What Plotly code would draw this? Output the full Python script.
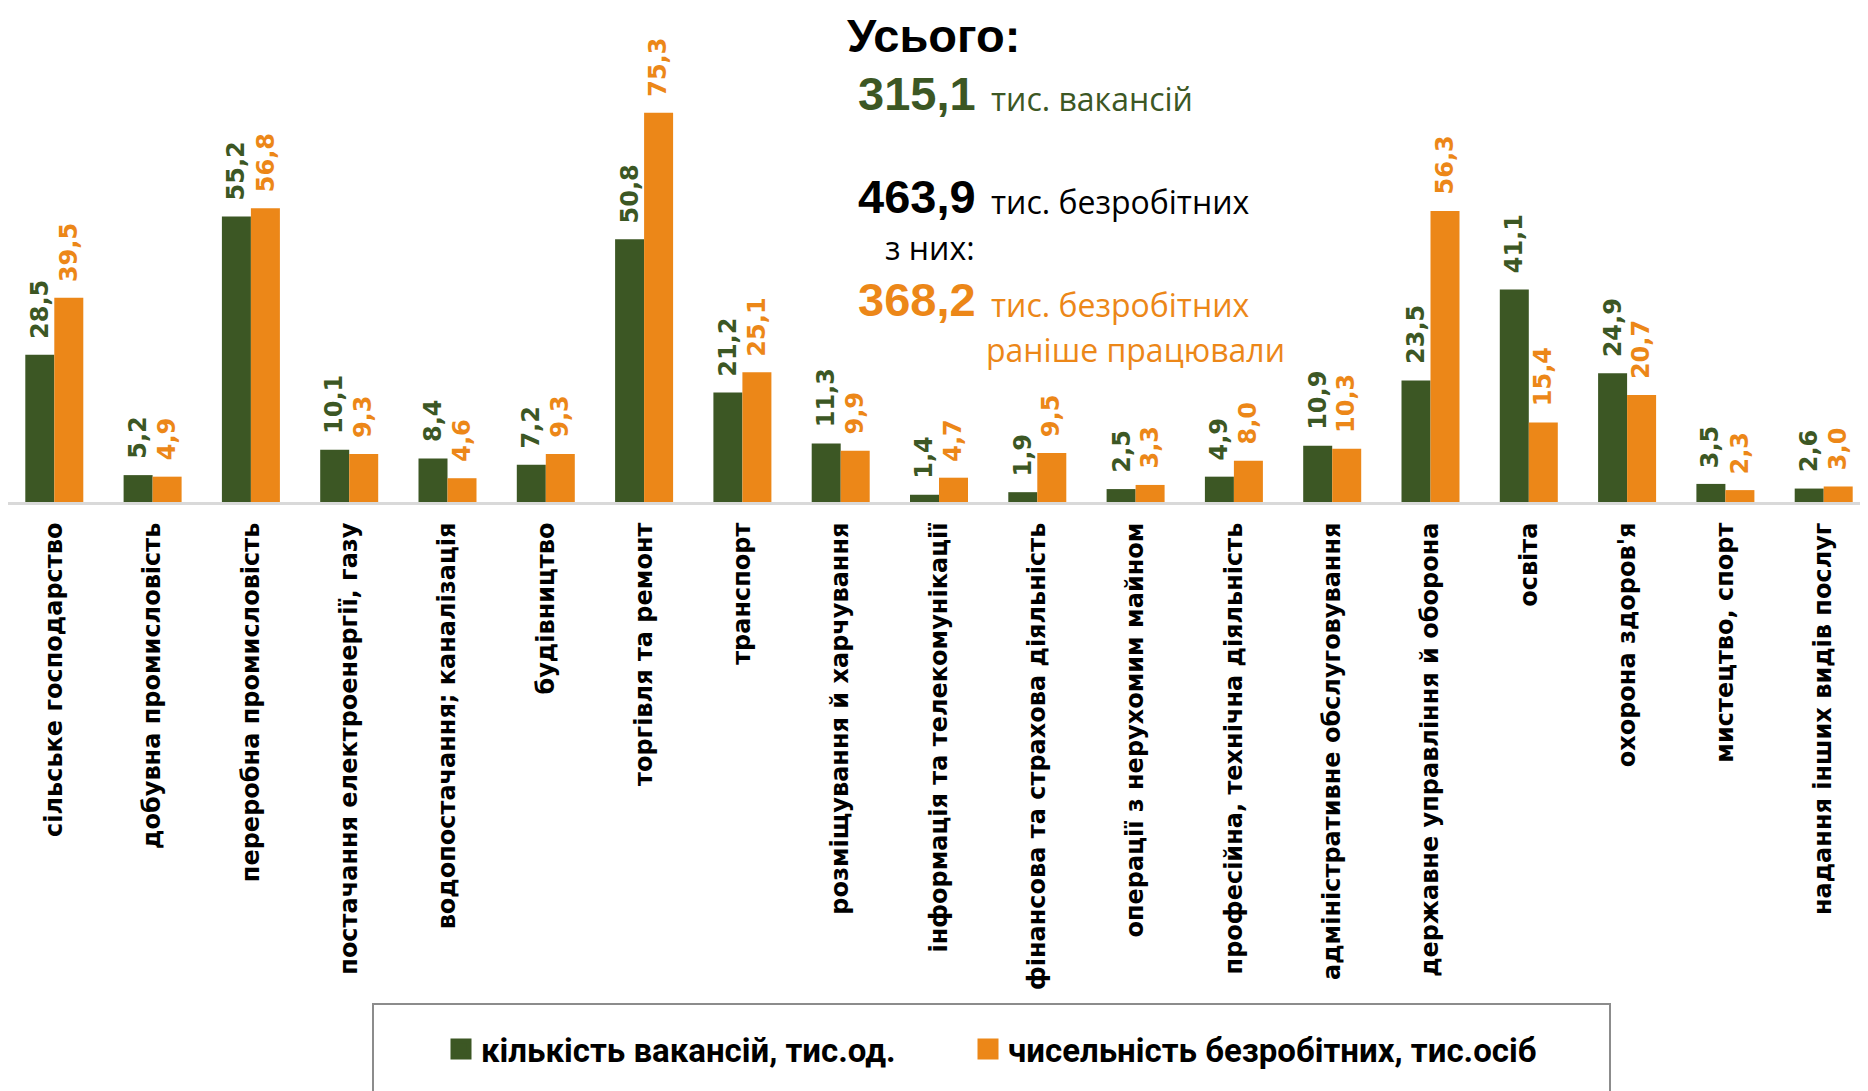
import plotly.graph_objects as go

categories = [
    "сільське господарство",
    "добувна промисловість",
    "переробна промисловість",
    "постачання електроенергії, газу",
    "водопостачання; каналізація",
    "будівництво",
    "торгівля та ремонт",
    "транспорт",
    "розміщування й харчування",
    "інформація та телекомунікації",
    "фінансова та страхова діяльність",
    "операції з нерухомим майном",
    "професійна, технічна діяльність",
    "адміністративне обслуговування",
    "державне управління й оборона",
    "освіта",
    "охорона здоров'я",
    "мистецтво, спорт",
    "надання інших видів послуг",
]
vacancies = [28.5, 5.2, 55.2, 10.1, 8.4, 7.2, 50.8, 21.2, 11.3, 1.4, 1.9, 2.5, 4.9, 10.9, 23.5, 41.1, 24.9, 3.5, 2.6]
unemployed = [39.5, 4.9, 56.8, 9.3, 4.6, 9.3, 75.3, 25.1, 9.9, 4.7, 9.5, 3.3, 8.0, 10.3, 56.3, 15.4, 20.7, 2.3, 3.0]
series_names = ["кількість вакансій, тис.од.", "чисельність безробітних, тис.осіб"]

total_title = "Усього:"
total_vacancies = "315,1"
total_unemployed = "463,9"
total_prev_worked = "368,2"

GREEN = "#3C5724"
ORANGE = "#EC8718"

# page offset caused by the default body margin of the html page
OFF = 8
W, H = 1868 - OFF, 1091 - OFF
BASE = 502            # baseline y in page px
ML, MR, MT = 0, 0, 0
MB = H - (BASE - OFF)
PW = W - ML - MR
PH = H - MT - MB
PX_PER_UNIT_X = 98.3
PX_PER_UNIT_Y = 5.17
FIRST_CENTER = 54.3   # page px


def px(x):
    return (x - OFF - ML) / PW


def py(y):
    return (BASE - y) / PH


def fmt(v):
    return f"{v:.1f}".replace(".", ",")


fig = go.Figure()
fig.add_bar(name=series_names[0], x=categories, y=vacancies, marker_color=GREEN, marker_line_width=0, showlegend=False)
fig.add_bar(name=series_names[1], x=categories, y=unemployed, marker_color=ORANGE, marker_line_width=0, showlegend=False)
# legend entries (square swatches), one legend per series
for name, col, leg in zip(series_names, [GREEN, ORANGE], ["legend", "legend2"]):
    fig.add_scatter(name=name, x=[None], y=[None], mode="markers", legend=leg,
                    marker=dict(symbol="square", size=16, color=col, line=dict(color=col, width=5)))

annotations = []
bar_off = 14.5
for cat, v in zip(categories, vacancies):
    annotations.append(dict(x=cat, y=v, xref="x", yref="y", text=fmt(v), showarrow=False,
                            textangle=-90, xanchor="center", yanchor="bottom", xshift=-bar_off, yshift=14,
                            font=dict(family="DejaVu Sans", size=24, color=GREEN, weight="bold")))
for cat, v in zip(categories, unemployed):
    annotations.append(dict(x=cat, y=v, xref="x", yref="y", text=fmt(v), showarrow=False,
                            textangle=-90, xanchor="center", yanchor="bottom", xshift=bar_off, yshift=14,
                            font=dict(family="DejaVu Sans", size=24, color=ORANGE, weight="bold")))


def txt(text, left, baseline, size, color, family, bold):
    return dict(x=px(left), y=py(baseline - 0.35 * size), xref="paper", yref="paper", text=text,
                showarrow=False, xanchor="left", yanchor="middle", borderpad=0,
                font=dict(family=family, size=size, color=color, weight="bold" if bold else "normal"))


AR = "Liberation Sans, Arial"
OS = "Open Sans"
annotations += [
    txt(total_title, 846, 52, 47, "black", AR, True),
    txt(total_vacancies, 857, 110, 47, GREEN, AR, True),
    txt("тис. вакансій", 990, 110, 32, GREEN, OS, False),
    txt(total_unemployed, 857, 213, 47, "black", AR, True),
    txt("тис. безробітних", 990, 213, 32, "black", OS, False),
    txt("з них:", 884, 259, 32, "black", OS, False),
    txt(total_prev_worked, 857, 316, 47, ORANGE, AR, True),
    txt("тис. безробітних", 990, 316, 32, ORANGE, OS, False),
    txt("раніше працювали", 985, 361, 32, ORANGE, OS, False),
]

x0 = -(FIRST_CENTER - OFF - ML) / PX_PER_UNIT_X
x1 = x0 + PW / PX_PER_UNIT_X

leg_font = dict(family="Roboto", size=33, color="black", weight="bold")
fig.update_layout(
    width=W, height=H,
    margin=dict(l=ML, r=MR, t=MT, b=MB, pad=0),
    paper_bgcolor="white", plot_bgcolor="white",
    barmode="group", bargap=0.41, bargroupgap=0,
    showlegend=True,
    legend=dict(orientation="h", x=px(441), xanchor="left", y=py(1049), yanchor="middle",
                font=leg_font, bgcolor="rgba(0,0,0,0)", itemsizing="trace"),
    legend2=dict(orientation="h", x=px(968), xanchor="left", y=py(1049), yanchor="middle",
                 font=leg_font, bgcolor="rgba(0,0,0,0)", itemsizing="trace"),
    annotations=annotations,
    shapes=[dict(type="rect", xref="paper", yref="paper", x0=px(373), x1=px(1610), y0=py(1004), y1=py(1110),
                 line=dict(color="#8C8C8C", width=2), fillcolor="rgba(0,0,0,0)", layer="below")],
)
fig.update_xaxes(type="category", range=[x0, x1], showline=True, linecolor="#D9D9D9", linewidth=3,
                 tickangle=-90, ticks="", ticklabelstandoff=8, showgrid=False, zeroline=False,
                 tickfont=dict(family="DejaVu Sans", size=24, color="black", weight="bold"))
fig.update_yaxes(visible=False, range=[0, PH / PX_PER_UNIT_Y], showgrid=False, zeroline=False)

fig.write_html("out.html")
